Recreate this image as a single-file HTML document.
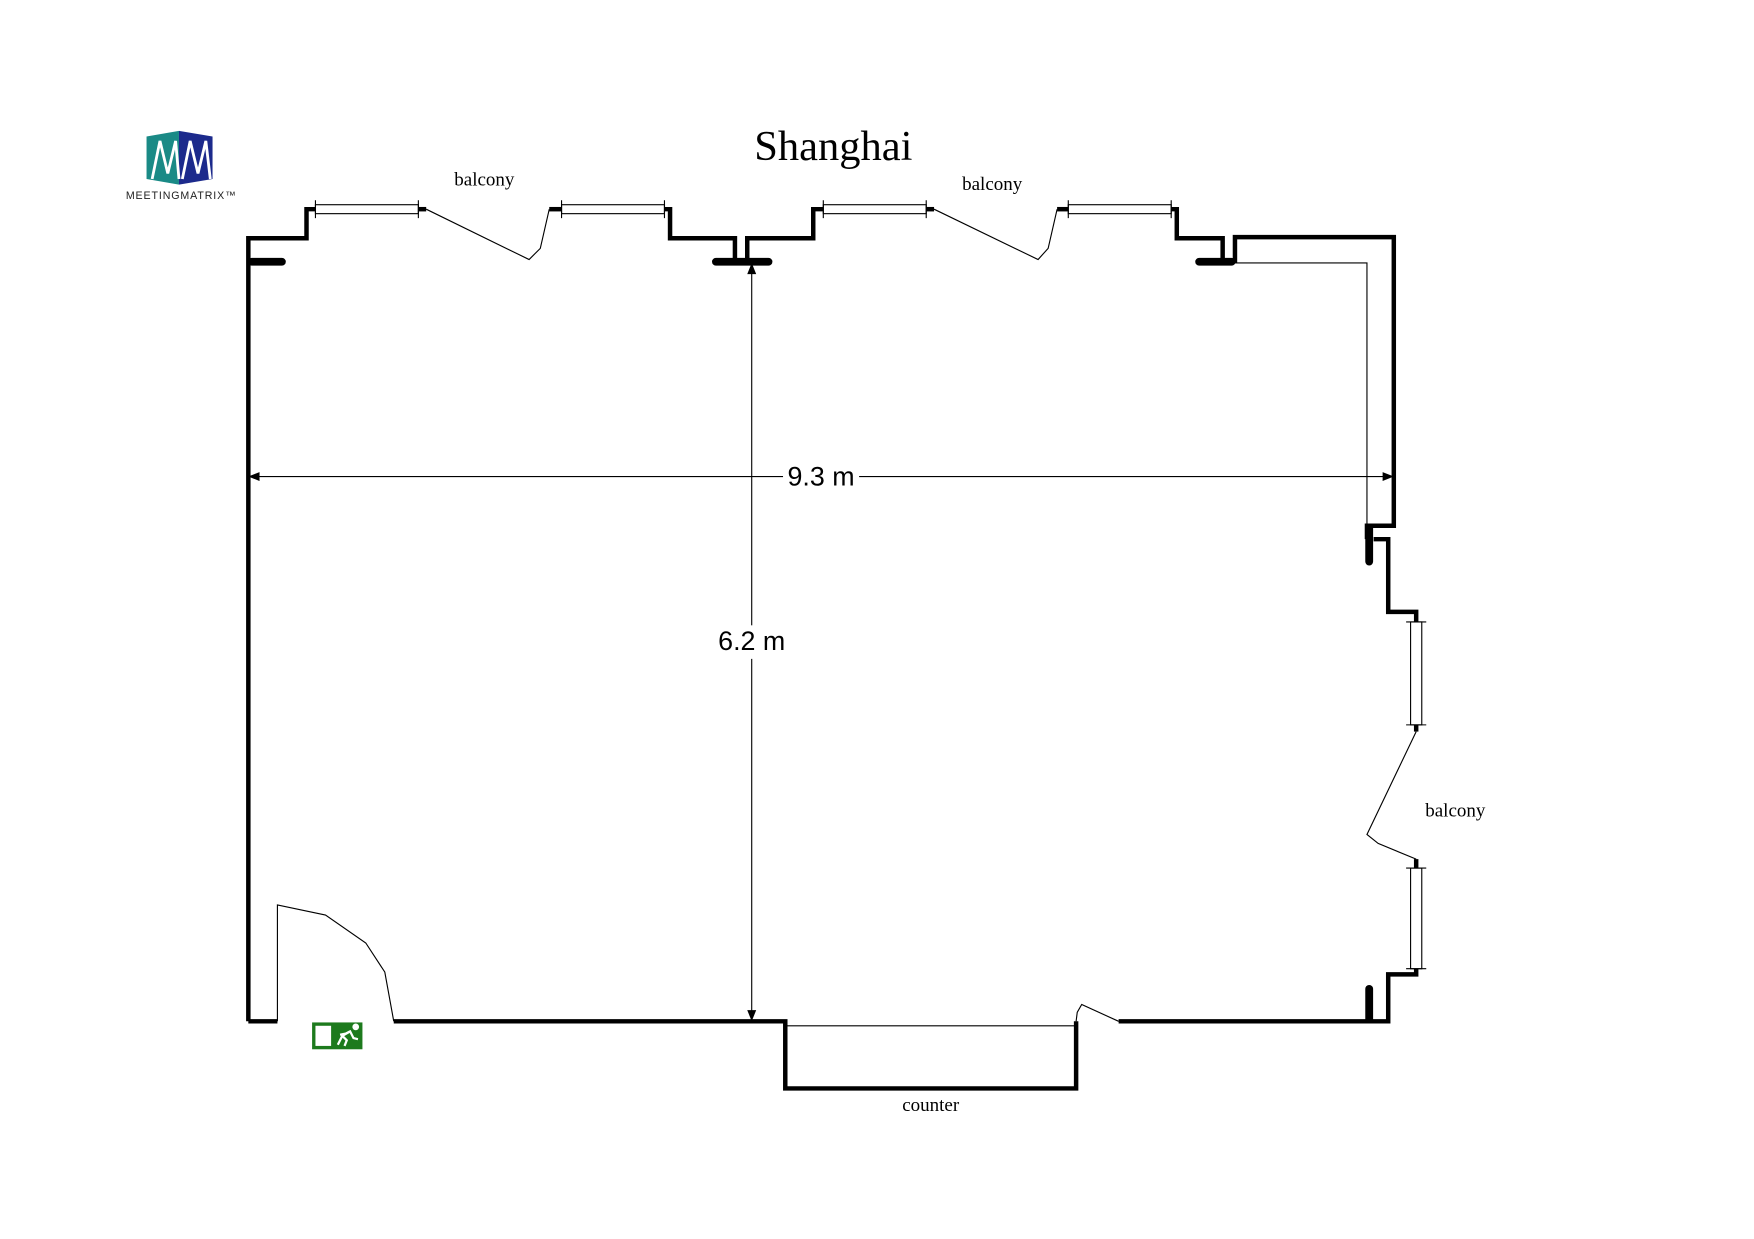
<!DOCTYPE html>
<html><head><meta charset="utf-8"><style>
html,body{margin:0;padding:0;background:#fff;}
svg{display:block;}
text{font-family:"Liberation Serif",serif;}
</style></head><body>
<svg width="1754" height="1239" viewBox="0 0 1568 1107.6" xmlns="http://www.w3.org/2000/svg">
<rect width="1568" height="1108" fill="#fff"/>
<!-- logo -->
<polygon points="131,122 160,117 160,165 131,160" fill="#1a8a86"/>
<polygon points="160,117 190,122 190,160 160,165" fill="#1c2a8c"/>
<polyline points="136,160 143,126 150,155 157,126 160,160" fill="none" stroke="#fff" stroke-width="2.5"/>
<polyline points="163,160 170,126 177,155 184,126 188,160" fill="none" stroke="#fff" stroke-width="2.5"/>
<text x="162" y="178" font-family="Liberation Sans" font-size="9.5" text-anchor="middle" fill="#222" letter-spacing="0.8" style="font-family:'Liberation Sans',sans-serif">MEETINGMATRIX™</text>

<text x="745" y="143" font-size="38" text-anchor="middle">Shanghai</text>
<text x="433" y="166" font-size="17" text-anchor="middle">balcony</text>
<text x="887" y="170" font-size="17" text-anchor="middle">balcony</text>
<text x="1301" y="730" font-size="17" text-anchor="middle">balcony</text>
<text x="832" y="993" font-size="17" text-anchor="middle">counter</text>

<g fill="none" stroke="#000" stroke-width="4" stroke-linejoin="miter">
<polyline points="222,913 222,213 274,213 274,187 282,187"/>
<polyline points="374,187 381,187"/>
<polyline points="491,187 502,187"/>
<polyline points="594,187 599,187 599,213 657,213 657,235"/>
<polyline points="668,235 668,213 727,213 727,187 736,187"/>
<polyline points="828,187 835,187"/>
<polyline points="945,187 955,187"/>
<polyline points="1047,187 1052,187 1052,213 1093,213 1093,235"/>
<polyline points="1104,235 1104,212 1246,212 1246,470 1222,470 1222,482"/>
<polyline points="1228,482 1241,482 1241,547 1266,547 1266,556"/>
<polyline points="1266,648 1266,654"/>
<polyline points="1266,768 1266,776"/>
<polyline points="1266,866 1266,871 1241,871 1241,913 1000,913"/>
<polyline points="962,913 962,973 702,973 702,913 352,913"/>
<polyline points="248,913 222,913"/>
</g>
<g stroke="#000" stroke-width="7" stroke-linecap="round">
<line x1="225" y1="234" x2="252" y2="234"/>
<line x1="640" y1="234" x2="687" y2="234"/>
<line x1="1072" y1="234" x2="1101" y2="234"/>
<line x1="1224" y1="472" x2="1224" y2="502"/>
<line x1="1224" y1="884" x2="1224" y2="911"/>
</g>
<!-- windows -->
<g fill="none" stroke="#000" stroke-width="1">
<rect x="282" y="183" width="92" height="8"/><line x1="282" y1="179" x2="282" y2="195"/><line x1="374" y1="179" x2="374" y2="195"/>
<rect x="502" y="183" width="92" height="8"/><line x1="502" y1="179" x2="502" y2="195"/><line x1="594" y1="179" x2="594" y2="195"/>
<rect x="736" y="183" width="92" height="8"/><line x1="736" y1="179" x2="736" y2="195"/><line x1="828" y1="179" x2="828" y2="195"/>
<rect x="955" y="183" width="92" height="8"/><line x1="955" y1="179" x2="955" y2="195"/><line x1="1047" y1="179" x2="1047" y2="195"/>
<rect x="1261" y="556" width="10" height="92"/><line x1="1257" y1="556" x2="1275" y2="556"/><line x1="1257" y1="648" x2="1275" y2="648"/>
<rect x="1261" y="776" width="10" height="90"/><line x1="1257" y1="776" x2="1275" y2="776"/><line x1="1257" y1="866" x2="1275" y2="866"/>
<!-- doors -->
<polyline points="381,187 473,232 483,222 491,187"/>
<polyline points="835,187 928,232 937,222 945,187"/>
<polyline points="1266,654 1222,746 1232,754 1266,768"/>
<polyline points="352,913 344,869 327,843 291,818 248,809 248,913"/>
<polyline points="1000,913 967,898 963,905 962,913"/>
<polyline points="1104,235 1222,235 1222,470"/>
<line x1="702" y1="917" x2="962" y2="917"/>
<!-- dimensions -->
<line x1="226" y1="426" x2="1242" y2="426"/>
<line x1="672" y1="240" x2="672" y2="908"/>
</g>
<polygon points="222,426 232,422 232,430" fill="#000"/>
<polygon points="1246,426 1236,422 1236,430" fill="#000"/>
<polygon points="672,235 668,245 676,245" fill="#000"/>
<polygon points="672,913 668,903 676,903" fill="#000"/>
<rect x="700" y="412" width="68" height="28" fill="#fff"/>
<text x="734" y="434" font-size="24" text-anchor="middle" style="font-family:'Liberation Sans',sans-serif">9.3 m</text>
<rect x="637" y="559" width="70" height="30" fill="#fff"/>
<text x="672" y="581" font-size="24" text-anchor="middle" style="font-family:'Liberation Sans',sans-serif">6.2 m</text>
<!-- exit sign -->
<rect x="279" y="914" width="45" height="24" fill="#1d7a1d"/>
<rect x="282" y="917" width="14" height="18" fill="#fff"/>
<circle cx="318" cy="918" r="3" fill="#fff"/>
<polyline points="302,934 306,926 313,922 316,928 320,929" fill="none" stroke="#fff" stroke-width="2"/>
<polyline points="306,926 310,930 308,935" fill="none" stroke="#fff" stroke-width="2"/>
<polyline points="313,922 309,924 304,925" fill="none" stroke="#fff" stroke-width="2"/>
</svg>
</body></html>
